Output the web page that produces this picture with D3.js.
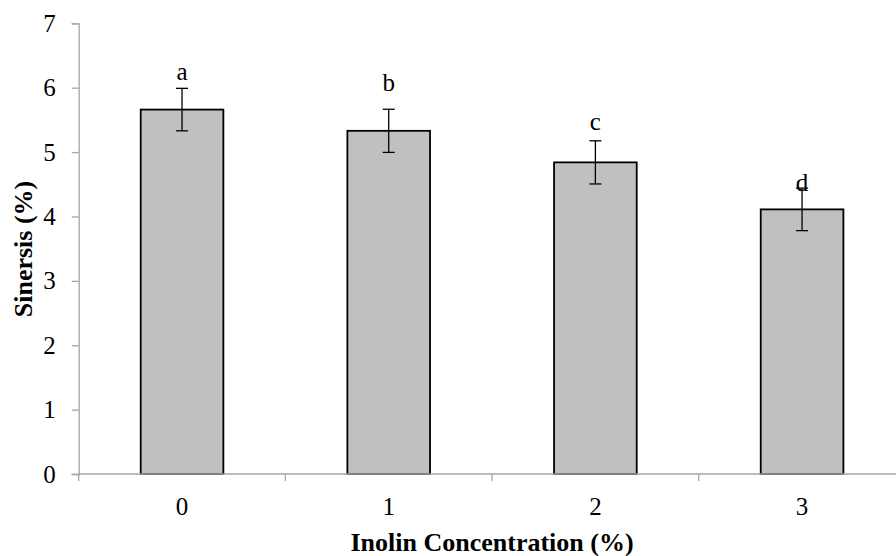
<!DOCTYPE html>
<html>
<head>
<meta charset="utf-8">
<script src="https://cdn.jsdelivr.net/npm/d3@7"></script>
<style>
  html, body { margin: 0; padding: 0; background: #fff; }
  svg { display: block; }
  text { font-family: "Liberation Serif", "Times New Roman", serif; fill: #000; }
</style>
</head>
<body>
<svg id="chart" width="896" height="556"></svg>
<script>
const categories = ["0", "1", "2", "3"];
const values = [5.66, 5.33, 4.84, 4.11];
const errors = [0.33, 0.335, 0.335, 0.33];
const letters = ["a", "b", "c", "d"];
const letterPos = [6.12, 5.95, 5.35, 4.39];
const yTicks = [0, 1, 2, 3, 4, 5, 6, 7];
const xTitle = "Inolin Concentration (%)";
const yTitle = "Sinersis (%)";

const svg = d3.select("#chart");
const x0 = 78.7, x1 = 905.4, yTop = 23.3, yBot = 474;
const axisColor = "#a6a6a6";

const x = d3.scaleBand().domain(categories).range([x0, x1]).paddingInner(0.6).paddingOuter(0.3);
const y = d3.scaleLinear().domain([0, 7]).range([yBot, yTop]);
const step = x.step();

// Y axis
const yAxis = d3.axisLeft(y).tickValues(yTicks).tickSize(7).tickPadding(16).tickFormat(d3.format("d"));
const gy = svg.append("g").attr("transform", `translate(${x0},0)`).call(yAxis);
gy.select(".domain").attr("stroke", axisColor).attr("stroke-width", 1.3);
gy.selectAll(".tick line").attr("stroke", axisColor).attr("stroke-width", 1.3);
gy.selectAll(".tick text").style("font-family", '"Liberation Serif", serif').style("font-size", "25px").attr("fill", "#000");

// Bars
svg.append("g").selectAll("rect").data(values).join("rect")
  .attr("x", (d, i) => x(categories[i]))
  .attr("y", d => y(d))
  .attr("width", x.bandwidth())
  .attr("height", d => y(0) - y(d))
  .attr("fill", "#c0c0c0")
  .attr("stroke", "#000")
  .attr("stroke-width", 1.8);

// X axis line and ticks at category boundaries
const gx = svg.append("g");
gx.append("line").attr("x1", x0).attr("x2", 896).attr("y1", yBot).attr("y2", yBot)
  .attr("stroke", axisColor).attr("stroke-width", 1.3);
gx.selectAll("line.tk").data(d3.range(categories.length + 1)).join("line").attr("class", "tk")
  .attr("x1", i => x0 + i * step).attr("x2", i => x0 + i * step)
  .attr("y1", yBot).attr("y2", yBot + 7)
  .attr("stroke", axisColor).attr("stroke-width", 1.3);
gx.selectAll("text").data(categories).join("text")
  .attr("x", d => x(d) + x.bandwidth() / 2)
  .attr("y", 515)
  .attr("text-anchor", "middle")
  .style("font-size", "25px")
  .text(d => d);

// Error bars
const eb = svg.append("g").attr("stroke", "#000").attr("stroke-width", 1.3);
values.forEach((v, i) => {
  const cx = x(categories[i]) + x.bandwidth() / 2;
  eb.append("line").attr("x1", cx).attr("x2", cx).attr("y1", y(v + errors[i])).attr("y2", y(v - errors[i]));
  eb.append("line").attr("x1", cx - 6).attr("x2", cx + 6).attr("y1", y(v + errors[i])).attr("y2", y(v + errors[i]));
  eb.append("line").attr("x1", cx - 6).attr("x2", cx + 6).attr("y1", y(v - errors[i])).attr("y2", y(v - errors[i]));
});

// Significance letters
svg.append("g").selectAll("text").data(letters).join("text")
  .attr("x", (d, i) => x(categories[i]) + x.bandwidth() / 2)
  .attr("y", (d, i) => y(letterPos[i]))
  .attr("text-anchor", "middle")
  .style("font-size", "25px")
  .text(d => d);

// Axis titles
svg.append("text")
  .attr("x", (x0 + x1) / 2)
  .attr("y", 551)
  .attr("text-anchor", "middle")
  .style("font-size", "26px").style("font-weight", "bold")
  .text(xTitle);

svg.append("text")
  .attr("transform", `translate(32,249) rotate(-90)`)
  .attr("text-anchor", "middle")
  .style("font-size", "26px").style("font-weight", "bold")
  .text(yTitle);
</script>
</body>
</html>
